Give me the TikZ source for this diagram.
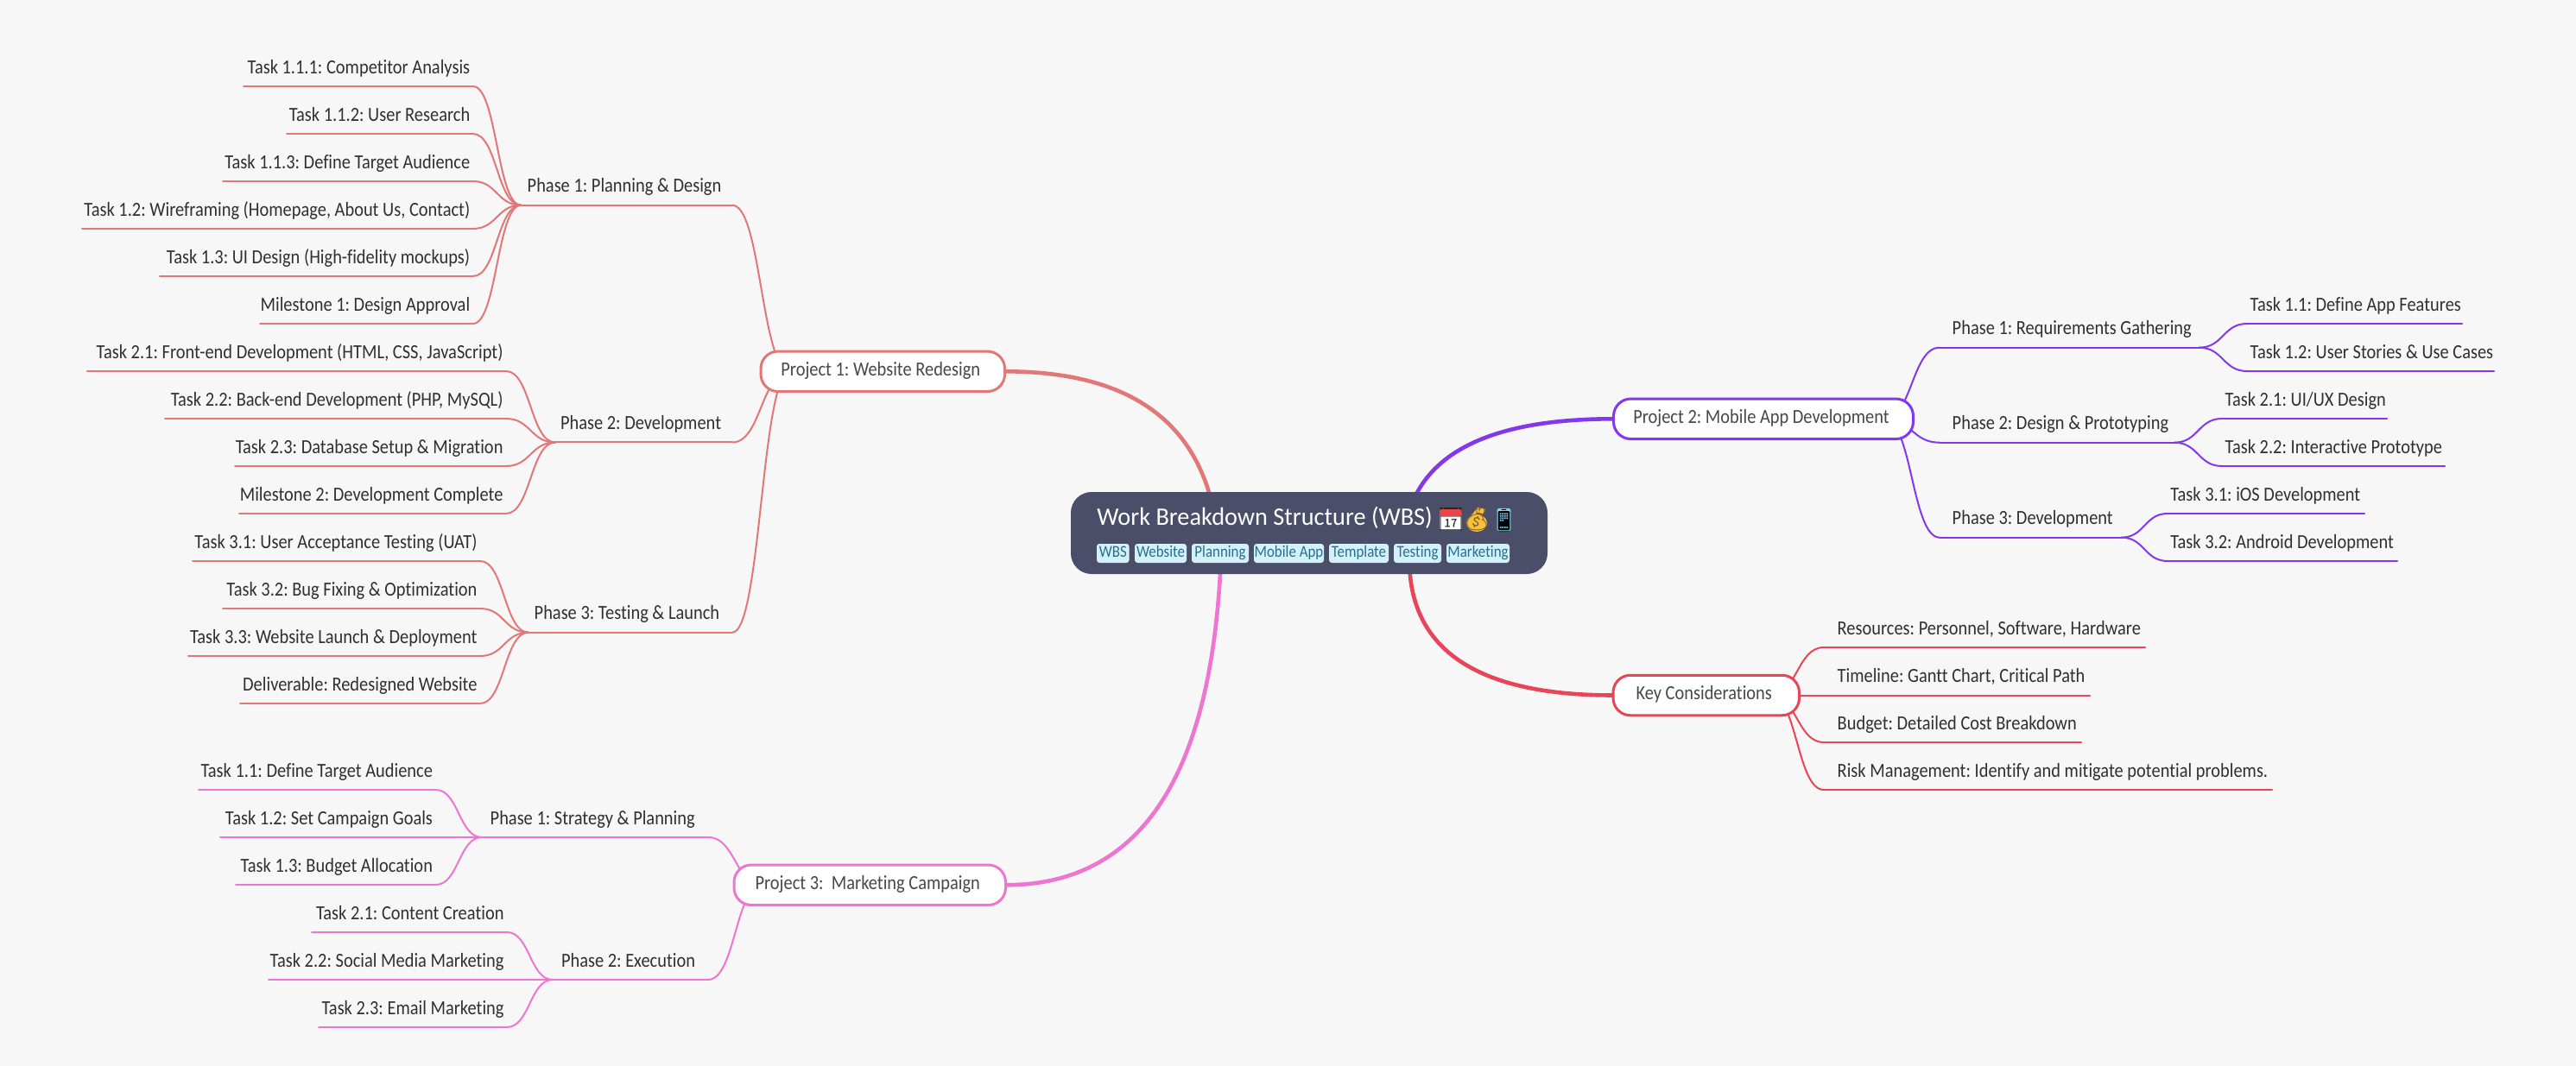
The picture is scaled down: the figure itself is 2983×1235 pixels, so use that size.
\documentclass[tikz,border=0pt]{standalone}
\usepackage{fontspec}
\setmainfont[Ligatures=NoCommon,FakeStretch=0.88]{Carlito}
\newfontfamily\titlefont[Ligatures=NoCommon,FakeStretch=0.97]{Carlito}
\newfontfamily\emojifont{Noto Emoji}
\usetikzlibrary{calc}
\definecolor{pageC}{HTML}{F7F7F7}
\definecolor{rootC}{HTML}{4A4E69}
\definecolor{tagC}{HTML}{D4F1F9}
\definecolor{tagT}{HTML}{2A6F8A}
\definecolor{onec}{HTML}{E27777}
\definecolor{twoc}{HTML}{8338EC}
\definecolor{threec}{HTML}{EE75D0}
\definecolor{keyc}{HTML}{E94558}
\definecolor{leafT}{HTML}{303030}
\definecolor{projT}{HTML}{484848}
\definecolor{calRed}{HTML}{E8424A}
\definecolor{bagGold}{HTML}{F5C33B}
\pgfdeclarelayer{bg}
\pgfsetlayers{bg,main}
\frenchspacing
\tikzset{
  mmline/.style={inner sep=0pt,outer sep=0pt,text height=8.5pt,text depth=7.4pt,text=leafT,font=\fontsize{11.6}{13}\selectfont},
  mmrule/.style={line width=1pt,line cap=round},
  mainlink/.style={line width=2.3pt},
  projbox/.style={draw,line width=1.5pt,fill=white,rounded corners=10pt,inner sep=0pt,outer sep=0pt,text=projT,text height=14.1pt,text depth=9.15pt,font=\fontsize{11.6}{13}\selectfont},
  tagbox/.style={fill=tagC,rounded corners=1.6pt,inner sep=0pt,outer sep=0pt,text=tagT,text height=7.5pt,text depth=3.5pt,font=\fontsize{9.6}{11}\selectfont},
  rootbox/.style={fill=rootC,rounded corners=12pt,inner sep=0pt,outer sep=0pt,minimum width=276pt,minimum height=47.5pt},
  emoji/.style={inner sep=0pt,outer sep=0pt,font=\emojifont\fontsize{13}{15}\selectfont},
}
% left-aligned text: name, xl, xr, y, colour, text x, text
\newcommand{\mml}[7]{%
  \pgfmathsetlengthmacro\mmw{(#3-#2)*0.5pt}%
  \pgfmathsetlengthmacro\mmo{(#6-#2)*0.5pt}%
  \node[mmline,minimum width=\mmw,anchor=south] (#1) at ({(#2+#3)/2},#4) {\makebox[\mmw][l]{\hspace*{\mmo}#7}};
  \draw[mmrule,#5] (#1.south west) -- (#1.south east);
}
% right-aligned text: name, xl, xr, y, colour, text
\newcommand{\mmr}[6]{%
  \pgfmathsetlengthmacro\mmw{(#3-#2)*0.5pt}%
  \node[mmline,minimum width=\mmw,anchor=south] (#1) at ({(#2+#3)/2},#4) {\makebox[\mmw][r]{#6\hspace*{1.75pt}}};
  \draw[mmrule,#5] (#1.south west) -- (#1.south east);
}
% project: name, xl, xr, yc, colour, text
\newcommand{\mmproj}[6]{%
  \pgfmathsetlengthmacro\mmw{(#3-#2)*0.5pt}%
  \node[projbox,draw=#5,minimum width=\mmw] (#1) at ({(#2+#3)/2},#4) {\makebox[0pt][c]{\hspace*{-2.5pt}#6}};
}
% curve with horizontal ends: colour, from, to
\newcommand{\mmlink}[3]{%
  \begin{pgfonlayer}{bg}
  \draw[mmrule,#1] let \p1=(#2),\p2=(#3) in (\p1) .. controls ({0.5*(\x1+\x2)},\y1) and ({0.5*(\x1+\x2)},\y2) .. (\p2);
  \end{pgfonlayer}
}
% tag: name, xl, xr, text
\newcommand{\mmtag}[4]{%
  \pgfmathsetlengthmacro\mmw{(#3-#2)*0.5pt}%
  \node[tagbox,minimum width=\mmw] (#1) at ({(#2+#3)/2},641) {#4};
}
\begin{document}
\begin{tikzpicture}[x=0.5pt,y=-0.5pt]
\useasboundingbox (0,0) rectangle (2983,1235);
\begin{pgfonlayer}{bg}
\fill[pageC] (0,0) rectangle (2983,1235);
\end{pgfonlayer}

% root
\node[rootbox] (root) at (1516,617.5) {};
\node[anchor=base west,inner sep=0pt,text=white,font=\titlefont\fontsize{14.6}{17}\selectfont] (title) at (1270,608) {Work Breakdown Structure (WBS)};
\mmtag{t1}{1270}{1307.6}{WBS}
\mmtag{t2}{1314}{1374}{Website}
\mmtag{t3}{1380}{1446}{Planning}
\mmtag{t4}{1452}{1533}{Mobile App}
\mmtag{t5}{1539}{1608}{Template}
\mmtag{t6}{1614}{1669}{Testing}
\mmtag{t7}{1675}{1748}{Marketing}

% emoji backings and glyphs
\fill[white,rounded corners=0.8pt] (1667,592) rectangle (1692.7,614);
\fill[bagGold] (1710,606) ellipse (12 and 10);
\fill[bagGold] (1704,597) -- (1716,597) -- (1720,590) -- (1711,588) -- cycle;
\fill[black,rounded corners=1pt] (1734.5,589) rectangle (1748.5,616);
\node[emoji,text=black!85] (e1) at (1680,602) {\symbol{"1F4C5}};
\fill[calRed,rounded corners=0.8pt] (1667,590) rectangle (1692.7,598);
\node[emoji,text=brown!70!black] (e2) at (1710,602) {\symbol{"1F4B0}};
\node[emoji,text=cyan!50!white] (e3) at (1741.5,602.5) {\symbol{"1F4F1}};

% projects
\mmproj{p1}{881}{1163.5}{430.3}{onec}{Project 1: Website Redesign}
\mmproj{p2}{1868.5}{2215.5}{485.3}{twoc}{Project 2: Mobile App Development}
\mmproj{p3}{850}{1164.5}{1025.3}{threec}{Project 3:\ \ Marketing Campaign}
\mmproj{p4}{1868}{2083.5}{805.5}{keyc}{Key Considerations}

% hidden ends of branches
\coordinate (hp1) at (915,430.3);
\coordinate (hp2) at (2182,485.3);
\coordinate (hp3) at (883,1025.3);
\coordinate (hp4) at (2050,805.5);
\coordinate (ra) at (1412,661);
\coordinate (rb) at (1625,640);
\coordinate (rc) at (1415,590);
\coordinate (rd) at (1632,648);

% main links
\begin{pgfonlayer}{bg}
\draw[mainlink,onec] (ra) .. controls (1412,507) and (1329.7,430.3) .. (p1.east);
\draw[mainlink,twoc] (rb) .. controls (1625,536.7) and (1705.7,485.3) .. (p2.west);
\draw[mainlink,threec] (rc) .. controls (1415,880) and (1332.3,1025.3) .. (p3.east);
\draw[mainlink,keyc] (rd) .. controls (1632,752.7) and (1710.3,805.5) .. (p4.west);
\end{pgfonlayer}

% Project 1 phases
\mml{a}{603.3}{848}{237.7}{onec}{610.7}{Phase 1: Planning \& Design}
\mml{b}{643}{848}{512.5}{onec}{649}{Phase 2: Development}
\mml{c}{612}{848}{732.7}{onec}{618.7}{Phase 3: Testing \& Launch}
\mmlink{onec}{a.south east}{hp1}
\mmlink{onec}{b.south east}{hp1}
\mmlink{onec}{c.south east}{hp1}

\mmr{a1}{282}{547.7}{100}{onec}{Task 1.1.1: Competitor Analysis}
\mmr{a2}{332}{547.7}{155}{onec}{Task 1.1.2: User Research}
\mmr{a3}{258}{547.7}{210}{onec}{Task 1.1.3: Define Target Audience}
\mmr{a4}{95}{547.7}{265}{onec}{Task 1.2: Wireframing (Homepage, About Us, Contact)}
\mmr{a5}{185}{547.7}{320}{onec}{Task 1.3: UI Design (High-fidelity mockups)}
\mmr{a6}{301}{547.7}{375}{onec}{Milestone 1: Design Approval}
\mmlink{onec}{a.south west}{a1.south east}
\mmlink{onec}{a.south west}{a2.south east}
\mmlink{onec}{a.south west}{a3.south east}
\mmlink{onec}{a.south west}{a4.south east}
\mmlink{onec}{a.south west}{a5.south east}
\mmlink{onec}{a.south west}{a6.south east}

\mmr{b1}{101}{586}{430}{onec}{Task 2.1: Front-end Development (HTML, CSS, JavaScript)}
\mmr{b2}{191}{586}{485}{onec}{Task 2.2: Back-end Development (PHP, MySQL)}
\mmr{b3}{272}{586}{540}{onec}{Task 2.3: Database Setup \& Migration}
\mmr{b4}{277}{586}{595}{onec}{Milestone 2: Development Complete}
\mmlink{onec}{b.south west}{b1.south east}
\mmlink{onec}{b.south west}{b2.south east}
\mmlink{onec}{b.south west}{b3.south east}
\mmlink{onec}{b.south west}{b4.south east}

\mmr{c1}{223}{556}{650}{onec}{Task 3.1: User Acceptance Testing (UAT)}
\mmr{c2}{258}{556}{705}{onec}{Task 3.2: Bug Fixing \& Optimization}
\mmr{c3}{218}{556}{760}{onec}{Task 3.3: Website Launch \& Deployment}
\mmr{c4}{278}{556}{815}{onec}{Deliverable: Redesigned Website}
\mmlink{onec}{c.south west}{c1.south east}
\mmlink{onec}{c.south west}{c2.south east}
\mmlink{onec}{c.south west}{c3.south east}
\mmlink{onec}{c.south west}{c4.south east}

% Project 3 phases
\mml{f}{558}{820}{970}{threec}{567.7}{Phase 1: Strategy \& Planning}
\mml{g}{640}{820}{1135}{threec}{650}{Phase 2: Execution}
\mmlink{threec}{f.south east}{hp3}
\mmlink{threec}{g.south east}{hp3}
\mmr{f1}{230}{504.5}{915}{threec}{Task 1.1: Define Target Audience}
\mmr{f2}{255}{504.5}{970}{threec}{Task 1.2: Set Campaign Goals}
\mmr{f3}{273}{504.5}{1025}{threec}{Task 1.3: Budget Allocation}
\mmlink{threec}{f.south west}{f1.south east}
\mmlink{threec}{f.south west}{f2.south east}
\mmlink{threec}{f.south west}{f3.south east}
\mmr{g1}{361}{587}{1080}{threec}{Task 2.1: Content Creation}
\mmr{g2}{311}{587}{1135}{threec}{Task 2.2: Social Media Marketing}
\mmr{g3}{369}{587}{1190}{threec}{Task 2.3: Email Marketing}
\mmlink{threec}{g.south west}{g1.south east}
\mmlink{threec}{g.south west}{g2.south east}
\mmlink{threec}{g.south west}{g3.south east}

% Project 2 phases
\mml{d}{2246}{2546.7}{402.7}{twoc}{2260.7}{Phase 1: Requirements Gathering}
\mml{e}{2246}{2518}{512.7}{twoc}{2260.7}{Phase 2: Design \& Prototyping}
\mml{h}{2246}{2456.7}{622.7}{twoc}{2260.7}{Phase 3: Development}
\mmlink{twoc}{d.south west}{hp2}
\mmlink{twoc}{e.south west}{hp2}
\mmlink{twoc}{h.south west}{hp2}
\mml{d1}{2602}{2851}{375}{twoc}{2605.7}{Task 1.1: Define App Features}
\mml{d2}{2602}{2888}{430}{twoc}{2605.7}{Task 1.2: User Stories \& Use Cases}
\mmlink{twoc}{d.south east}{d1.south west}
\mmlink{twoc}{d.south east}{d2.south west}
\mml{e1x}{2573}{2764}{485}{twoc}{2576.7}{Task 2.1: UI/UX Design}
\mml{e2x}{2573}{2831}{540}{twoc}{2576.7}{Task 2.2: Interactive Prototype}
\mmlink{twoc}{e.south east}{e1x.south west}
\mmlink{twoc}{e.south east}{e2x.south west}
\mml{h1}{2510}{2738}{595}{twoc}{2513.3}{Task 3.1: iOS Development}
\mml{h2}{2510}{2776}{650}{twoc}{2513.3}{Task 3.2: Android Development}
\mmlink{twoc}{h.south east}{h1.south west}
\mmlink{twoc}{h.south east}{h2.south west}

% Key considerations
\mml{k1}{2112}{2484}{750}{keyc}{2127.7}{Resources: Personnel, Software, Hardware}
\mml{k2}{2112}{2420}{805.5}{keyc}{2127.7}{Timeline: Gantt Chart, Critical Path}
\mml{k3}{2112}{2410}{860}{keyc}{2127.7}{Budget: Detailed Cost Breakdown}
\mml{k4}{2112}{2631}{915}{keyc}{2127.7}{Risk Management: Identify and mitigate potential problems.}
\mmlink{keyc}{hp4}{k1.south west}
\mmlink{keyc}{hp4}{k2.south west}
\mmlink{keyc}{hp4}{k3.south west}
\mmlink{keyc}{hp4}{k4.south west}
\end{tikzpicture}
\end{document}
